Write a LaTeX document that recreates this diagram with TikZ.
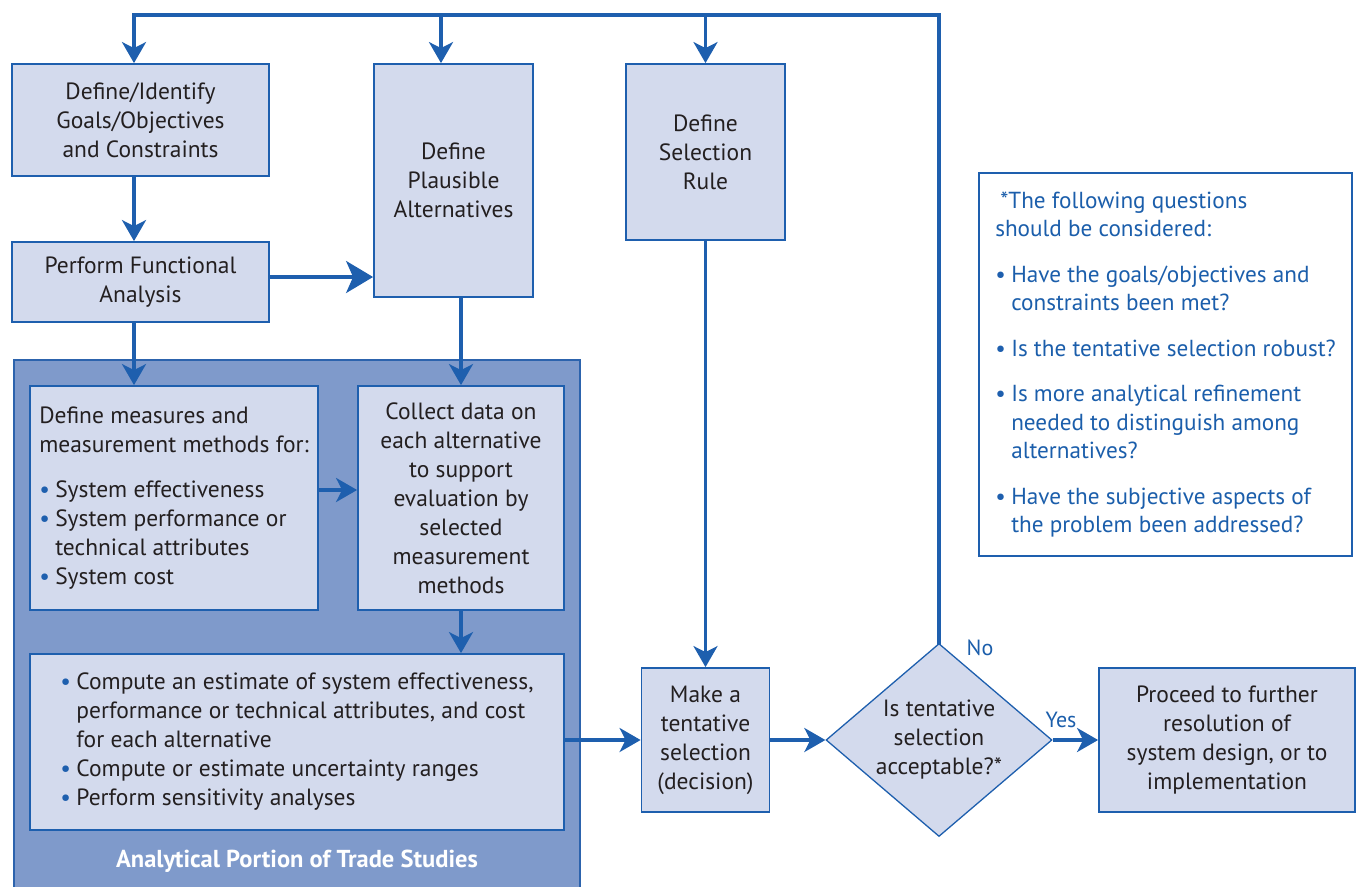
\documentclass[tikz,border=0pt]{standalone}
\usepackage{fontspec}
\setmainfont{PT Sans}
\usetikzlibrary{arrows.meta,shapes.geometric}
\definecolor{lineblue}{HTML}{1E5FAE}
\definecolor{boxfill}{HTML}{D3DAED}
\definecolor{panelfill}{HTML}{7F9ACB}
\definecolor{paneledge}{HTML}{2C63AD}
\definecolor{txt}{HTML}{231F20}
\definecolor{notetxt}{HTML}{1B5EAB}
\newcommand{\bul}{\makebox[16pt][l]{\textcolor{lineblue}{•}}}
\newcommand{\hang}{\hspace*{16pt}}
\begin{document}
\begin{tikzpicture}[x=1pt,y=-1pt,
  box/.style={draw=lineblue, line width=1.8pt, fill=boxfill, inner sep=0pt,
    text=txt, font=\fontsize{23.5}{29}\selectfont, align=center},
  conn/.style={draw=lineblue, line width=3.3pt,
    -{Stealth[length=21pt,width=24pt,inset=6pt]}},
  bigconn/.style={draw=lineblue, line width=3.3pt,
    -{Stealth[length=27pt,width=32pt,inset=7pt]}},
  plain/.style={draw=lineblue, line width=3.3pt},
  lbl/.style={text=notetxt, font=\fontsize{22}{24}\selectfont, inner sep=0pt}
]
\useasboundingbox (0,0) rectangle (1357,886);

% panel
\node[draw=paneledge, line width=1.8pt, fill=panelfill, minimum width=566pt,
  minimum height=540pt, inner sep=0pt] (panel) at (297,630) {};
\node[text=white, font=\bfseries\fontsize{24.5}{28}\selectfont, inner sep=0pt]
  (plabel) at (297,861) {Analytical Portion of Trade Studies};

% boxes
\node[box, minimum width=257pt, minimum height=112pt] (A) at (140.5,120)
  {Define/Identify\\Goals/Objectives\\and Constraints};
\node[box, minimum width=257pt, minimum height=80pt] (B) at (140.5,282)
  {Perform Functional\\Analysis};
\node[box, minimum width=159pt, minimum height=233pt] (C) at (453.5,180.5)
  {Define\\Plausible\\Alternatives};
\node[box, minimum width=159pt, minimum height=176pt] (D) at (705.5,152)
  {Define\\Selection\\Rule};
\node[box, minimum width=288pt, minimum height=224pt, align=left] (E) at (174,498)
  {Define measures and\\measurement methods for:\\[16pt]
   \bul System effectiveness\\
   \bul System performance or\\
   \hang technical attributes\\
   \bul System cost};
\node[box, minimum width=206pt, minimum height=224pt] (F) at (461,498)
  {Collect data on\\each alternative\\to support\\evaluation by\\selected\\measurement\\methods};
\node[box, minimum width=534pt, minimum height=176pt, align=left] (G) at (297,742)
  {\bul Compute an estimate of system effectiveness,\\
   \hang performance or technical attributes, and cost\\
   \hang for each alternative\\
   \bul Compute or estimate uncertainty ranges\\
   \bul Perform sensitivity analyses};
\node[box, minimum width=128pt, minimum height=144pt] (H) at (705.5,740)
  {Make a\\tentative\\selection\\(decision)};
\node[box, shape=diamond, line width=1.3pt, minimum width=226pt, minimum height=193pt,
  aspect=1.17] (Q) at (939,740)
  {Is tentative\\selection\\acceptable?*};
\node[box, minimum width=256pt, minimum height=144pt] (I) at (1227,740)
  {Proceed to further\\resolution of\\system design, or to\\implementation};

% note
\node[draw=lineblue, line width=1.5pt, fill=white, minimum width=373pt,
  minimum height=383pt, inner sep=0pt, align=left, text=notetxt,
  font=\fontsize{23.2}{28.5}\selectfont] (N) at (1165.5,364.5)
  {\hspace*{5pt}*The following questions\\
   should be considered:\\[17pt]
   \bul Have the goals/objectives and\\
   \hang constraints been met?\\[17pt]
   \bul Is the tentative selection robust?\\[17pt]
   \bul Is more analytical refinement\\
   \hang needed to distinguish among\\
   \hang alternatives?\\[17pt]
   \bul Have the subjective aspects of\\
   \hang the problem been addressed?};

% feedback loop
\coordinate (t1) at (134,15);
\coordinate (t2) at (441,15);
\coordinate (t3) at (705.5,15);
\draw[plain, line cap=rect] (Q.north) |- (t1);
\draw[conn] (t1) -- (A.north -| t1);
\draw[conn] (t2) -- (C.north -| t2);
\draw[conn] (t3) -- (D.north -| t3);

% connectors
\draw[conn] (A.south -| t1) -- (B.north -| t1);
\draw[bigconn] ([yshift=5pt]B.east) -- ([yshift=5pt]B.east -| C.west);
\draw[conn] (B.south -| t1) -- (E.north -| t1);
\draw[conn] (F.north |- C.south) -- (F.north);
\draw[conn] ([yshift=8pt]E.east) -- ([yshift=8pt]E.east -| F.west);
\draw[conn] (F.south) -- (F.south |- G.north);
\draw[conn] (D.south) -- (H.north);
\draw[conn] (G.east |- H.west) -- (H.west);
\draw[conn] (H.east) -- (Q.west);
\draw[conn] (Q.east) -- (I.west);

\node[lbl] (no) at (980,648) {No};
\node[lbl] (yes) at (1061,720) {Yes};
\end{tikzpicture}
\end{document}
